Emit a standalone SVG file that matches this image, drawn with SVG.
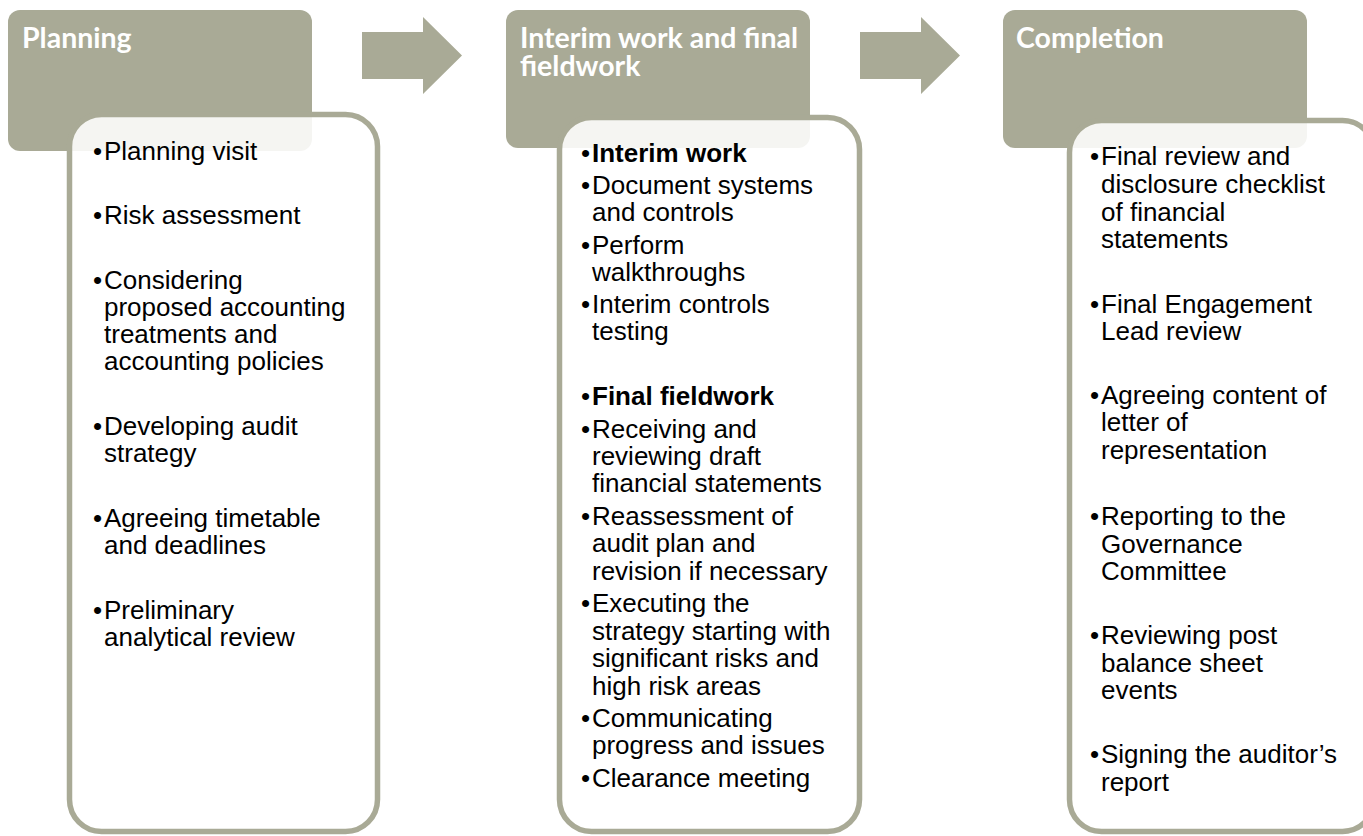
<svg xmlns="http://www.w3.org/2000/svg" width="1363" height="836" viewBox="0 0 1363 836">
<style>
.hdr{fill:#a9aa96}
.box{fill:#ffffff;fill-opacity:0.88;stroke:#a9aa96;stroke-width:5.5}
.arrow{fill:#a9aa96}
.ht{font-family:"Lato","Open Sans",sans-serif;font-weight:700;font-size:28.5px;fill:#ffffff}
.bt{font-family:"Liberation Sans",Arial,sans-serif;font-size:26px;fill:#000000}
.b{font-weight:700}
</style>
<rect width="1363" height="836" fill="#ffffff"/>
<g id="connectors">
<path class="arrow" d="M362,32 H423 V17 L462,55.5 L423,94 V79 H362 Z"/>
<path class="arrow" d="M860,32 H921 V17 L960,55.5 L921,94 V79 H860 Z"/>
</g>
<g id="planning">
<rect class="hdr" x="8" y="10" width="304" height="141" rx="12"/>
<text class="ht" x="22" y="48">Planning</text>
<rect class="box" x="69.5" y="114.5" width="308" height="717" rx="32"/>
<g class="bt">
<text x="93" y="160">•<tspan x="104">Planning visit</tspan></text>
<text x="93" y="224">•<tspan x="104">Risk assessment</tspan></text>
<text x="93" y="289">•<tspan x="104">Considering</tspan><tspan x="104" y="316">proposed accounting</tspan><tspan x="104" y="343">treatments and</tspan><tspan x="104" y="370">accounting policies</tspan></text>
<text x="93" y="435">•<tspan x="104">Developing audit</tspan><tspan x="104" y="462">strategy</tspan></text>
<text x="93" y="527">•<tspan x="104">Agreeing timetable</tspan><tspan x="104" y="554">and deadlines</tspan></text>
<text x="93" y="619">•<tspan x="104">Preliminary</tspan><tspan x="104" y="646">analytical review</tspan></text>
</g>
</g>
<g id="fieldwork">
<rect class="hdr" x="506" y="10" width="304" height="138" rx="12"/>
<text class="ht" x="520" y="48">Interim work and final<tspan x="520" y="76">fieldwork</tspan></text>
<rect class="box" x="559.5" y="117.5" width="300" height="714" rx="32"/>
<g class="bt">
<text x="581" y="161.5">•<tspan class="b" x="592">Interim work</tspan></text>
<text x="581" y="194">•<tspan x="592">Document systems</tspan><tspan x="592" y="221">and controls</tspan></text>
<text x="581" y="253.5">•<tspan x="592">Perform</tspan><tspan x="592" y="280.5">walkthroughs</tspan></text>
<text x="581" y="313">•<tspan x="592">Interim controls</tspan><tspan x="592" y="340">testing</tspan></text>
<text x="581" y="405">•<tspan class="b" x="592">Final fieldwork</tspan></text>
<text x="581" y="437.5">•<tspan x="592">Receiving and</tspan><tspan x="592" y="465">reviewing draft</tspan><tspan x="592" y="492">financial statements</tspan></text>
<text x="581" y="524.5">•<tspan x="592">Reassessment of</tspan><tspan x="592" y="552">audit plan and</tspan><tspan x="592" y="579.5">revision if necessary</tspan></text>
<text x="581" y="612">•<tspan x="592">Executing the</tspan><tspan x="592" y="639.5">strategy starting with</tspan><tspan x="592" y="667">significant risks and</tspan><tspan x="592" y="694.5">high risk areas</tspan></text>
<text x="581" y="727">•<tspan x="592">Communicating</tspan><tspan x="592" y="754">progress and issues</tspan></text>
<text x="581" y="786.5">•<tspan x="592">Clearance meeting</tspan></text>
</g>
</g>
<g id="completion">
<rect class="hdr" x="1003" y="10" width="304" height="138" rx="12"/>
<text class="ht" x="1016" y="48">Completion</text>
<rect class="box" x="1069.5" y="120.5" width="305" height="711" rx="32"/>
<g class="bt">
<text x="1090" y="165">•<tspan x="1101">Final review and</tspan><tspan x="1101" y="193">disclosure checklist</tspan><tspan x="1101" y="220.5">of financial</tspan><tspan x="1101" y="248">statements</tspan></text>
<text x="1090" y="313">•<tspan x="1101">Final Engagement</tspan><tspan x="1101" y="340">Lead review</tspan></text>
<text x="1090" y="403.5">•<tspan x="1101">Agreeing content of</tspan><tspan x="1101" y="431">letter of</tspan><tspan x="1101" y="458.5">representation</tspan></text>
<text x="1090" y="525">•<tspan x="1101">Reporting to the</tspan><tspan x="1101" y="552.5">Governance</tspan><tspan x="1101" y="580">Committee</tspan></text>
<text x="1090" y="644">•<tspan x="1101">Reviewing post</tspan><tspan x="1101" y="671.5">balance sheet</tspan><tspan x="1101" y="699">events</tspan></text>
<text x="1090" y="763">•<tspan x="1101">Signing the auditor’s</tspan><tspan x="1101" y="790.5">report</tspan></text>
</g>
</g>
</svg>
